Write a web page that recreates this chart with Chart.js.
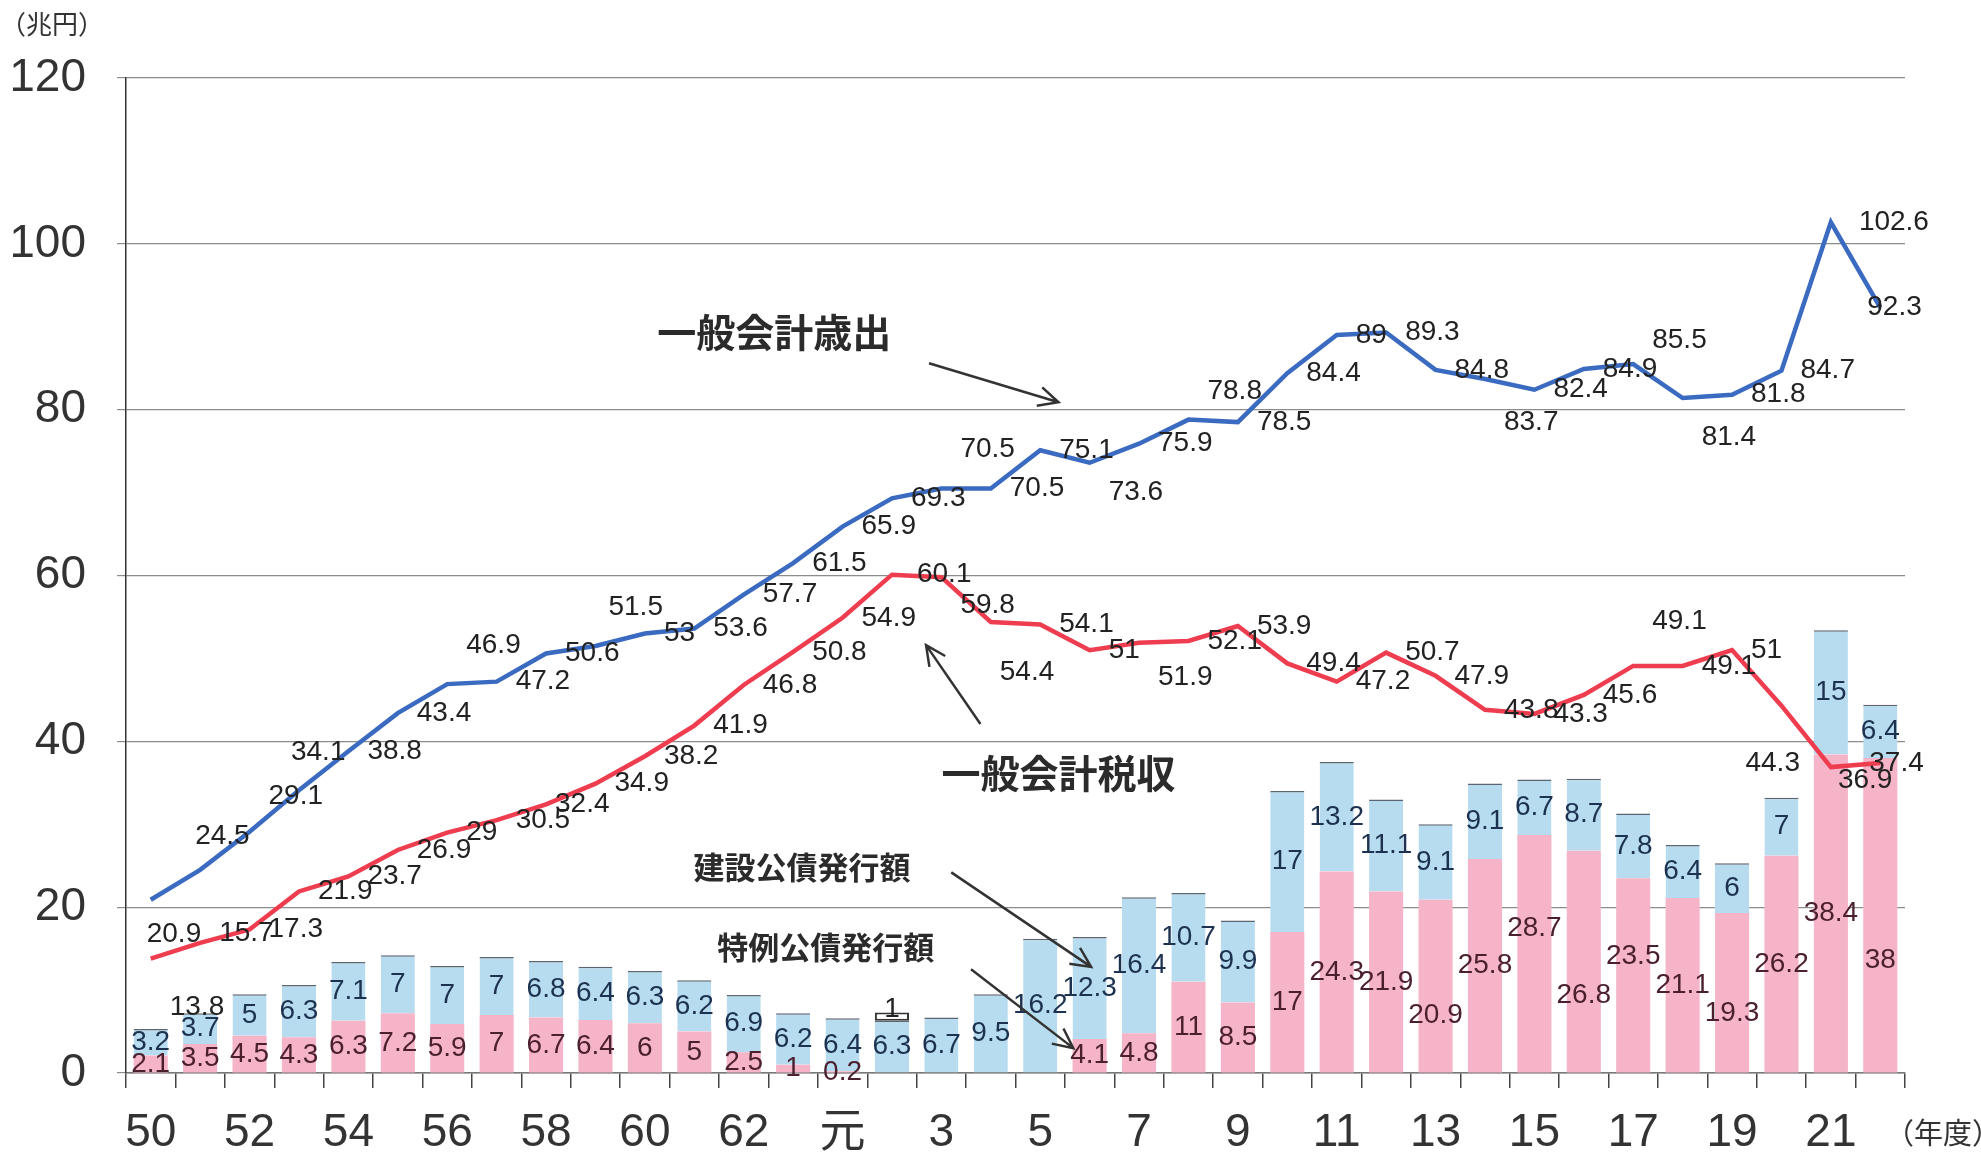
<!DOCTYPE html>
<html lang="ja">
<head>
<meta charset="UTF-8">
<title>一般会計税収・歳出と公債発行額</title>
<script src="https://cdn.jsdelivr.net/npm/chart.js"></script>
<style>
  body { margin: 0; background: #fff; }
  canvas { display: block; }
</style>
</head>
<body>
<canvas id="chart" width="1981" height="1152"></canvas>
<script>
// 年度（昭和50〜63、平成元〜22）
const years = ['50','51','52','53','54','55','56','57','58','59','60','61','62','63',
  '元','2','3','4','5','6','7','8','9','10','11','12','13','14','15','16','17','18','19','20','21','22'];

// 一般会計歳出（兆円）
const expenditure = [20.9,24.5,29.1,34.1,38.8,43.4,46.9,47.2,50.6,51.5,53,53.6,57.7,61.5,
  65.9,69.3,70.5,70.5,75.1,73.6,75.9,78.8,78.5,84.4,89,89.3,84.8,83.7,82.4,84.9,85.5,81.4,81.8,84.7,102.6,92.3];

// 一般会計税収（兆円）
const taxRevenue = [13.8,15.7,17.3,21.9,23.7,26.9,29,30.5,32.4,34.9,38.2,41.9,46.8,50.8,
  54.9,60.1,59.8,54.4,54.1,51,51.9,52.1,53.9,49.4,47.2,50.7,47.9,43.8,43.3,45.6,49.1,49.1,51,44.3,36.9,37.4];

// 特例公債発行額（兆円）
const deficitBonds = [2.1,3.5,4.5,4.3,6.3,7.2,5.9,7,6.7,6.4,6,5,2.5,1,
  0.2,0,0,0,0,4.1,4.8,11,8.5,17,24.3,21.9,20.9,25.8,28.7,26.8,23.5,21.1,19.3,26.2,38.4,38];

// 建設公債発行額（兆円）
const constructionBonds = [3.2,3.7,5,6.3,7.1,7,7,7,6.8,6.4,6.3,6.2,6.9,6.2,
  6.4,6.3,6.7,9.5,16.2,12.3,16.4,10.7,9.9,17,13.2,11.1,9.1,9.1,6.7,8.7,7.8,6.4,6,7,15,6.4];

// 臨時特別公債（平成2年度のみ）
const specialBonds = [null,null,null,null,null,null,null,null,null,null,null,null,null,null,
  null,1,null,null,null,null,null,null,null,null,null,null,null,null,null,null,null,null,null,null,null,null];

// label nudges [dx, dy] in px, where the original moved a label off its default spot
const expShift = {0:[-23,35], 1:[-24,-34], 2:[0,-35], 3:[-27,-38], 6:[0,-39], 9:[-6,-39],
  16:[0,-39], 19:[0,30], 21:[0,-28], 27:[0,43], 30:[0,-24], 31:[0,39], 34:[9,0], 35:[-32,0]};
const taxShift = {0:[0,49], 1:[0,-10], 8:[-10,0], 15:[6,0], 16:[0,28], 17:[-10,50], 20:[0,35],
  30:[0,-45], 33:[-55,58], 34:[-12,13], 35:[-30,0]};
const deficitShift = {26:29, 28:-25, 29:34, 30:-19, 32:21, 35:45};
const specialShift = {15:-7};

const NUM = "'Liberation Sans', Arial, 'Noto Sans CJK JP', sans-serif";
const JP = "'Noto Sans CJK JP', 'Noto Sans CJK SC', sans-serif";

const valueLabels = {
  id: 'valueLabels',
  afterDatasetsDraw(chart) {
    const ctx = chart.ctx;
    ctx.save();
    ctx.font = '28px ' + NUM;
    chart.data.datasets.forEach((ds, di) => {
      const meta = chart.getDatasetMeta(di);
      meta.data.forEach((el, i) => {
        const v = ds.data[i];
        if (!v) return;
        if (ds.type === 'line') {
          const s = ds.shift[i] || [0, 0];
          ctx.fillStyle = '#222';
          ctx.textAlign = 'left';
          ctx.textBaseline = 'middle';
          ctx.fillText(String(v), el.x + 19 + s[0], el.y + s[1]);
        } else {
          const dy = ds.shift[i] || 0;
          ctx.fillStyle = ds.labelColor;
          ctx.textAlign = 'center';
          ctx.textBaseline = 'middle';
          ctx.fillText(String(v), el.x, (el.y + el.base) / 2 + dy);
        }
      });
    });
    ctx.restore();
  }
};

// annotations placed in data units: [category index, value]
const notes = [
  { text: '一般会計歳出', at: [12.62, 89.4], size: 39, from: [15.75, 85.6], to: [18.37, 80.9] },
  { text: '一般会計税収', at: [18.37, 36.2], size: 39, from: [16.79, 42.1], to: [15.69, 51.6] },
  { text: '建設公債発行額', at: [13.18, 24.8], size: 31, from: [16.2, 24.2], to: [19.03, 12.8] },
  { text: '特例公債発行額', at: [13.66, 15.2], size: 31, from: [16.6, 12.5], to: [18.67, 3.0] }
];

const annotations = {
  id: 'annotations',
  afterDraw(chart) {
    const ctx = chart.ctx, x = chart.scales.x, y = chart.scales.y;
    ctx.save();
    notes.forEach(n => {
      ctx.font = 'bold ' + n.size + 'px ' + JP;
      ctx.fillStyle = '#2b2b2b';
      ctx.textAlign = 'center';
      ctx.textBaseline = 'middle';
      ctx.fillText(n.text, x.getPixelForValue(n.at[0]), y.getPixelForValue(n.at[1]));

      const x1 = x.getPixelForValue(n.from[0]), y1 = y.getPixelForValue(n.from[1]);
      const x2 = x.getPixelForValue(n.to[0]), y2 = y.getPixelForValue(n.to[1]);
      const a = Math.atan2(y2 - y1, x2 - x1);
      ctx.strokeStyle = '#333';
      ctx.lineWidth = 2.5;
      ctx.beginPath();
      ctx.moveTo(x1, y1);
      ctx.lineTo(x2, y2);
      ctx.moveTo(x2 - 22 * Math.cos(a - 0.45), y2 - 22 * Math.sin(a - 0.45));
      ctx.lineTo(x2, y2);
      ctx.lineTo(x2 - 22 * Math.cos(a + 0.45), y2 - 22 * Math.sin(a + 0.45));
      ctx.stroke();
    });

    ctx.fillStyle = '#333';
    ctx.textAlign = 'left';
    ctx.textBaseline = 'middle';
    ctx.font = '26px ' + JP;
    ctx.fillText('（兆円）', 0, 24);
    ctx.font = '29px ' + JP;
    ctx.fillText('（年度）', 1885, 1133);
    ctx.restore();
  }
};

new Chart(document.getElementById('chart').getContext('2d'), {
  type: 'bar',
  data: {
    labels: years,
    datasets: [
      { type: 'line', label: '一般会計歳出', data: expenditure, shift: expShift,
        borderColor: '#3a6bc0', borderWidth: 4.5, pointRadius: 0, tension: 0, fill: false,
        stack: 'exp', order: 0 },
      { type: 'line', label: '一般会計税収', data: taxRevenue, shift: taxShift,
        borderColor: '#ef3d50', borderWidth: 4.5, pointRadius: 0, tension: 0, fill: false,
        stack: 'tax', order: 0 },
      { type: 'bar', label: '特例公債発行額', data: deficitBonds, shift: deficitShift,
        labelColor: '#4a1f2e', backgroundColor: '#f5b4c7', borderWidth: 0,
        stack: 'debt', order: 1 },
      { type: 'bar', label: '建設公債発行額', data: constructionBonds, shift: {},
        labelColor: '#1c3250', backgroundColor: '#b8dcef', borderColor: '#5b6670',
        borderWidth: { top: 1.5, left: 0, right: 0, bottom: 0 },
        stack: 'debt', order: 1 },
      { type: 'bar', label: '臨時特別公債', data: specialBonds, shift: specialShift,
        labelColor: '#222', backgroundColor: '#fff', borderColor: '#333', borderWidth: 2,
        borderSkipped: false, stack: 'debt', order: 1 }
    ]
  },
  options: {
    responsive: false,
    animation: false,
    events: [],
    layout: { padding: { left: 13, top: 78, right: 76, bottom: 0 } },
    datasets: { bar: { categoryPercentage: 1, barPercentage: 0.69 } },
    plugins: { legend: { display: false }, tooltip: { enabled: false } },
    scales: {
      x: {
        stacked: true,
        grid: { offset: true, drawOnChartArea: false, drawTicks: true, tickLength: 15,
                color: '#444', lineWidth: 1.5 },
        border: { color: '#777', width: 1.5 },
        ticks: {
          autoSkip: false, maxRotation: 0, padding: 22, color: '#333',
          font: { family: NUM, size: 46, lineHeight: 1 },
          callback: (v, i) => (i % 2 === 0 ? years[i] : '')
        },
        afterFit(s) { s.height = 79; }
      },
      y: {
        stacked: true, min: 0, max: 120,
        grid: { color: '#8c8c8c', lineWidth: 1.2, tickLength: 9 },
        border: { color: '#333', width: 1.5 },
        ticks: { stepSize: 20, padding: 31, color: '#333', font: { family: NUM, size: 46 } },
        afterFit(s) { s.width = 113; }
      }
    }
  },
  plugins: [valueLabels, annotations]
});
</script>
</body>
</html>
